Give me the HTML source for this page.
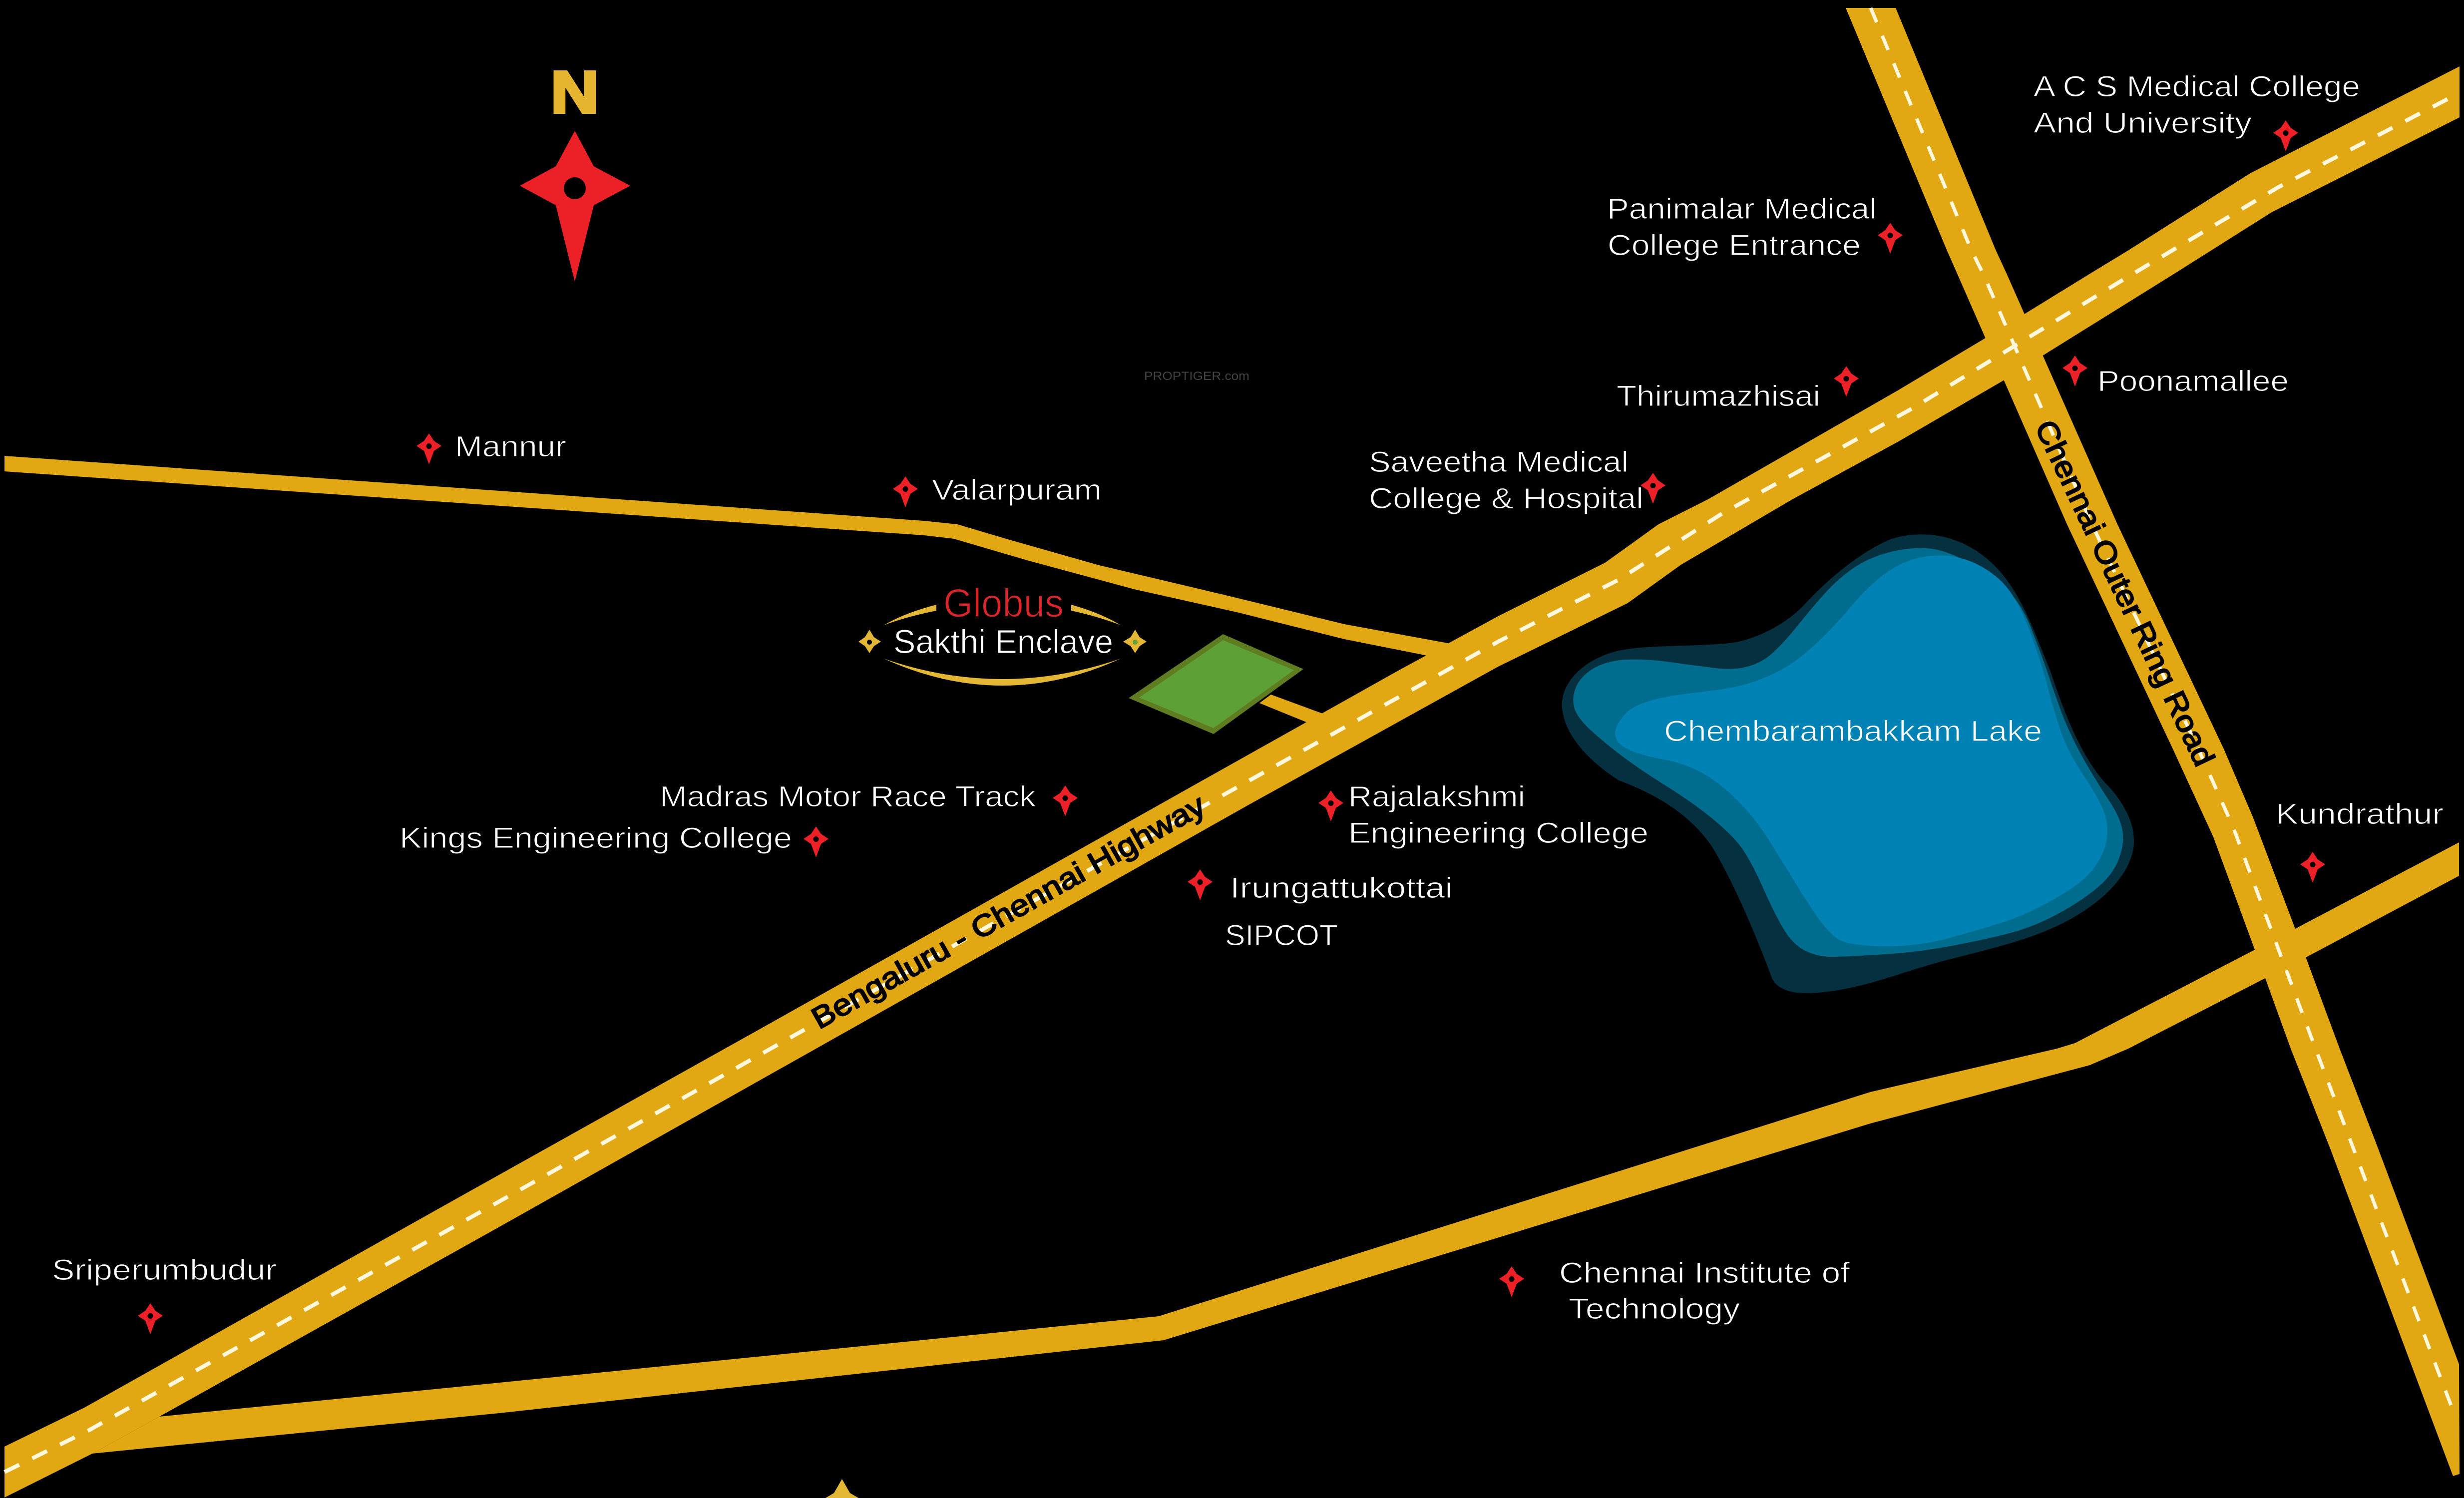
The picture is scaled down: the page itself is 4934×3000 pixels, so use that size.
<!DOCTYPE html>
<html>
<head>
<meta charset="utf-8">
<title>Location Map</title>
<style>
html,body{margin:0;padding:0;background:#000;}
svg{display:block;}
text{font-family:"Liberation Sans",sans-serif;}
.l{fill:#fff;font-size:58px;stroke:#000;stroke-width:1.2px;}
</style>
</head>
<body>
<svg xmlns="http://www.w3.org/2000/svg" width="4934" height="3000" viewBox="0 0 4934 3000">
<defs>
<g id="m"><polygon points="0,-25 10,-10 25,0 10,10 0,37 -10,10 -25,0 -10,-10" fill="#ec2027"/><circle cx="0" cy="0.5" r="5.5" fill="#000"/></g>
</defs>
<rect width="4934" height="3000" fill="#000"/>

<!-- lake -->
<g transform="translate(3000,1000) scale(.8929,.6696)">
<path fill="#04303f" d="M950,105 C1020,105 1090,150 1140,240 C1180,310 1210,420 1240,520 C1270,640 1310,780 1370,860 C1410,920 1430,980 1425,1040 C1415,1130 1350,1210 1270,1265 C1190,1320 1100,1345 1000,1380 C900,1415 800,1475 690,1477 C650,1477 620,1460 612,1425 C580,1310 530,1150 480,1040 C430,940 350,880 270,840 C200,780 145,700 143,615 C143,540 200,470 280,450 C350,435 450,440 520,430 C580,420 650,370 690,310 C740,240 800,170 870,125 C895,110 925,105 950,105 Z"/>
<path fill="#006d8f" d="M960,146 Q1000,150 1045,182 Q1090,215 1130,257 Q1170,300 1195,385 Q1220,470 1235,530 Q1250,590 1267,650 Q1285,710 1312,775 Q1340,840 1367,895 Q1395,950 1400,990 Q1405,1030 1392,1075 Q1380,1120 1345,1160 Q1310,1200 1255,1240 Q1200,1280 1140,1300 Q1080,1320 1010,1337 Q940,1355 860,1361 Q780,1368 747,1368 Q715,1368 687,1349 Q660,1330 640,1285 Q620,1240 595,1165 Q570,1090 550,1050 Q530,1010 485,960 Q440,910 380,860 Q320,810 280,770 Q240,730 207,690 Q175,650 170,620 Q165,590 175,560 Q185,530 212,507 Q240,485 280,480 Q320,476 375,485 Q430,495 477,503 Q525,512 557,501 Q590,490 615,460 Q640,430 670,380 Q700,330 730,285 Q760,240 795,207 Q830,175 875,159 Q920,143 960,146 Z"/>
<path fill="#0082b5" d="M1020,171 Q1060,180 1095,210 Q1130,240 1150,280 Q1170,320 1185,370 Q1200,420 1212,470 Q1225,520 1237,585 Q1250,650 1265,705 Q1280,760 1310,820 Q1340,880 1354,920 Q1368,960 1366,1000 Q1365,1040 1347,1080 Q1330,1120 1300,1150 Q1270,1180 1220,1215 Q1170,1250 1120,1270 Q1070,1290 1025,1307 Q980,1325 930,1332 Q880,1340 830,1335 Q780,1330 762,1315 Q745,1300 722,1260 Q700,1220 670,1155 Q640,1090 610,1025 Q580,960 540,905 Q500,850 460,820 Q420,790 372,778 Q325,767 297,751 Q270,735 265,717 Q260,700 265,682 Q270,665 285,642 Q300,620 335,605 Q370,590 420,582 Q470,575 515,565 Q560,555 600,532 Q640,510 670,480 Q700,450 730,410 Q760,370 795,315 Q830,260 865,225 Q900,190 940,176 Q980,163 1020,171 Z"/>
</g>

<!-- roads -->
<g fill="#e1a813">
<polygon points="9,913 1850,1043 1917,1050 2018,1080 2201,1132 2446,1190 2692,1250 2899,1288 2950,1310 2950,1345 2853,1312 2692,1280 2481,1227 2271,1180 2060,1123 1910,1079 1850,1072 9,944"/>
<polygon points="2545,1391 2670,1437 2640,1456 2522,1408"/>
<polygon points="319,2837 1000,2769 2320,2636 3745,2187 4119,2100 4155,2089 4515,1902 4596,1860 4924,1687 4924,1754 4618,1917 4536,1959 4262,2100 4185,2133 3745,2250 2330,2684 1000,2830 185,2911"/>
<polygon points="9,2897 169,2819 915,2400 1541,2050 2431,1550 2800,1343 3000,1234 3214,1127 3321,1050 3420,1000 3800,782 3974,678 4052,630 4182,550 4264,500 4506,347 4925,133 4925,235 4549,425 4351,550 4089,713 4010,763 3800,885 3589,1000 3366,1131 3259,1208 3000,1335 2500,1612 1723,2050 1000,2457 319,2837 185,2911 9,2999"/>
<polygon points="3696,16 3796,16 3996,500 4019,550 4240,1050 4453,1500 4512,1638 4596,1860 4685,2100 4762,2300 4924,2732 4925,2952 4912,2956 4666,2300 4587,2100 4536,1959 4432,1676 4351,1500 4139,1050 3920,550 3898,500"/>
</g>
<g fill="none" stroke="#fff8dc" stroke-width="8">
<polyline stroke-dasharray="33 29" points="9,2948 175,2866 1000,2406 2000,1843 3000,1285 3241,1161 3446,1030 3829,818 4255,558 4562,375 4923,187"/>
<polyline stroke-dasharray="31 29" stroke-width="7" points="3746,16 3947,500 3972,550 4189,1050 4402,1500 4472,1657 4555,1881 4634,2093 4714,2304 4917,2838"/>
</g>

<!-- plot -->
<polygon points="2449,1270 2610,1340 2430,1470 2260,1398" fill="#5f7d20"/>
<polygon points="2449,1282 2591,1342 2430,1458 2281,1397" fill="#5da035"/>

<!-- road labels -->
<text transform="translate(1640,2062) rotate(-29.3)" font-size="60" fill="#000" stroke="#000" stroke-width="2.5" textLength="892" lengthAdjust="spacingAndGlyphs">Bengaluru - Chennai Highway</text>
<text transform="translate(4074,854) rotate(64.6)" font-size="60" fill="#000" stroke="#000" stroke-width="2.5" textLength="758" lengthAdjust="spacingAndGlyphs">Chennai Outer Ring Road</text>

<!-- compass -->
<text x="1103" y="225" font-size="118" font-weight="bold" fill="#e6b52f" stroke="#e6b52f" stroke-width="6" textLength="96" lengthAdjust="spacingAndGlyphs">N</text>
<polygon points="1151,262 1189,333 1262,372 1189,411 1151,564 1113,411 1041,372 1113,333" fill="#ec2027"/>
<circle cx="1151" cy="377" r="22" fill="#000"/>

<!-- logo -->
<text x="1889" y="1235" font-size="80" fill="#dc252b" stroke="#000" stroke-width="1.5" textLength="241" lengthAdjust="spacingAndGlyphs">Globus</text>
<text x="1789" y="1308" font-size="67" fill="#fff" stroke="#000" stroke-width="1" textLength="440" lengthAdjust="spacingAndGlyphs">Sakthi Enclave</text>
<g fill="#e3b733">
<path d="M1875,1211 Q1810,1228 1770,1252 Q1815,1235 1875,1223 Z"/>
<path d="M2145,1211 Q2205,1228 2244,1252 Q2200,1235 2145,1223 Z"/>
<path d="M1770,1319 Q2007,1427 2244,1319 Q2007,1401 1770,1319 Z"/>
<polygon points="1741,1261 1750,1276 1764,1285 1750,1294 1741,1308 1732,1294 1719,1285 1732,1276"/>
<polygon points="2273,1261 2282,1276 2296,1285 2282,1294 2273,1308 2264,1294 2249,1285 2264,1276"/>
<polygon points="1686,2962 1702,2990 1736,3010 1702,3030 1670,3030 1636,3010 1670,2990"/>
</g>
<circle cx="1741" cy="1286" r="5" fill="#000"/>
<circle cx="2273" cy="1286" r="5" fill="#5da035"/>
<circle cx="1686" cy="3012" r="11" fill="#000"/>

<!-- labels -->
<text class="l" x="4072" y="193" textLength="654" lengthAdjust="spacingAndGlyphs">A C S Medical College</text>
<text class="l" x="4072" y="266" textLength="437" lengthAdjust="spacingAndGlyphs">And University</text>
<text class="l" x="3218" y="438" textLength="540" lengthAdjust="spacingAndGlyphs">Panimalar Medical</text>
<text class="l" x="3219" y="511" textLength="507" lengthAdjust="spacingAndGlyphs">College Entrance</text>
<text class="l" x="3237" y="813" textLength="408" lengthAdjust="spacingAndGlyphs">Thirumazhisai</text>
<text class="l" x="2741" y="945" textLength="520" lengthAdjust="spacingAndGlyphs">Saveetha Medical</text>
<text class="l" x="2741" y="1018" textLength="550" lengthAdjust="spacingAndGlyphs">College &amp; Hospital</text>
<text class="l" x="911" y="914" textLength="223" lengthAdjust="spacingAndGlyphs">Mannur</text>
<text class="l" x="1866" y="1001" textLength="340" lengthAdjust="spacingAndGlyphs">Valarpuram</text>
<text class="l" x="1321" y="1615" textLength="753" lengthAdjust="spacingAndGlyphs">Madras Motor Race Track</text>
<text class="l" x="800" y="1698" textLength="786" lengthAdjust="spacingAndGlyphs">Kings Engineering College</text>
<text class="l" x="2700" y="1615" textLength="354" lengthAdjust="spacingAndGlyphs">Rajalakshmi</text>
<text class="l" x="2700" y="1688" textLength="601" lengthAdjust="spacingAndGlyphs">Engineering College</text>
<text class="l" x="2463" y="1798" textLength="446" lengthAdjust="spacingAndGlyphs">Irungattukottai</text>
<text class="l" x="2453" y="1893" textLength="226" lengthAdjust="spacingAndGlyphs">SIPCOT</text>
<text class="l" style="stroke:#0082b5" x="3332" y="1484" textLength="757" lengthAdjust="spacingAndGlyphs">Chembarambakkam Lake</text>
<text class="l" x="4557" y="1650" textLength="336" lengthAdjust="spacingAndGlyphs">Kundrathur</text>
<text class="l" x="4200" y="783" textLength="383" lengthAdjust="spacingAndGlyphs">Poonamallee</text>
<text class="l" x="104" y="2563" textLength="450" lengthAdjust="spacingAndGlyphs">Sriperumbudur</text>
<text class="l" x="3122" y="2569" textLength="582" lengthAdjust="spacingAndGlyphs">Chennai Institute of</text>
<text class="l" x="3141" y="2641" textLength="343" lengthAdjust="spacingAndGlyphs">Technology</text>
<text x="2291" y="761" font-size="24" fill="#444" textLength="211" lengthAdjust="spacingAndGlyphs">PROPTIGER.com</text>

<!-- markers -->
<use href="#m" x="859" y="893"/>
<use href="#m" x="1813" y="979"/>
<use href="#m" x="2133" y="1598"/>
<use href="#m" x="1634" y="1680"/>
<use href="#m" x="2403" y="1766"/>
<use href="#m" x="2665" y="1608"/>
<use href="#m" x="4631" y="1731"/>
<use href="#m" x="301" y="2635"/>
<use href="#m" x="4577" y="266"/>
<use href="#m" x="3785" y="471"/>
<use href="#m" x="3697" y="758"/>
<use href="#m" x="3310" y="972"/>
<use href="#m" x="3027" y="2561"/>
<use href="#m" x="4155" y="737"/>
</svg>
</body>
</html>
